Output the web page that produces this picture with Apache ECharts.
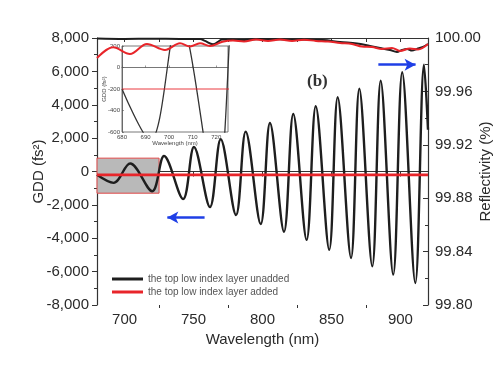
<!DOCTYPE html>
<html><head><meta charset="utf-8">
<script src="https://cdn.jsdelivr.net/npm/echarts@6/dist/echarts.min.js"></script>
<style>html,body{margin:0;padding:0;background:#fff}#c{width:500px;height:378px}</style>
</head><body><div id="c"></div>
<script>
// ---- data ----
const xMajorTicks = [700, 750, 800, 850, 900];
const xMinorTicks = [725, 775, 825, 875];
const xTopTicks = [700, 725, 750, 775, 800, 825, 850, 875, 900];
const insetXTicks = [680, 690, 700, 710, 720];
const legendNames = ['the top low index layer unadded', 'the top low index layer added'];

// GDD (fs^2) vs wavelength (nm): extremes of the oscillation
const gddUnadded = [
  [680, -200], [692, -680], [704, 480], [720, -1180], [728.6, 930], [742.4, -1650],
  [750.3, 1470], [761.9, -2130], [769.7, 1930], [780.8, -2610], [787.8, 2390],
  [798.7, -3150], [805.4, 2910], [815.6, -3610], [822.3, 3450], [832.0, -4100],
  [838.6, 3910], [848.4, -4690], [854.5, 4450], [864.2, -5180], [870.2, 4960],
  [879.6, -5680], [885.7, 5440], [894.8, -6180], [901.3, 5950], [910.8, -6680],
  [917.1, 6400], [920, 2500]
];
const gddAdded = [[680, -200], [800, -200], [920, -200]];

// Reflectivity (%)
const reflUnadded = [
  [680, 99.9996], [700, 99.9993], [720, 99.9994], [740, 99.9993], [754.7, 99.9993],
  [758.3, 99.9978], [764.1, 99.9953], [767.7, 99.9970], [770.6, 99.9989], [783.7, 99.9985],
  [798.2, 99.9993], [819.9, 99.9989], [843.9, 99.9985], [856.2, 99.9970], [868.5, 99.9959],
  [877.9, 99.9940], [885.2, 99.9925], [892.4, 99.9910], [897.5, 99.9895], [901.1, 99.9910],
  [904.8, 99.9918], [908.4, 99.9906], [912.0, 99.9918], [916.4, 99.9933], [920, 99.9955]
];
const reflAdded = [
  [680, 99.9850], [691.7, 99.9930], [703.9, 99.9880], [716.2, 99.9955], [729.3, 99.9910],
  [740.2, 99.9960], [747.4, 99.9936], [754.7, 99.9960], [761.9, 99.9940], [771, 99.9972],
  [778.6, 99.9981], [786.6, 99.9974], [795.3, 99.9989], [804, 99.9978], [812.7, 99.9989],
  [821.4, 99.9978], [830.1, 99.9987], [838.8, 99.9978], [847.5, 99.9974], [856.2, 99.9963],
  [864.9, 99.9955], [872.1, 99.9936], [879.4, 99.9933], [886.6, 99.9918], [893.9, 99.9925],
  [899.7, 99.9903], [906.9, 99.9921], [912.7, 99.9914], [920, 99.9955]
];

const zoomBox = [[680, 800], [725, -1300]];
const arrowLeft = [[758, -2750], [731, -2750]];
const arrowRight = [[884, 99.980], [911, 99.980]];

// ---- chart ----
const FONT = '"Liberation Sans", Arial, sans-serif';
const TXT = '#2a2a2a';
const AX = '#333';
const BLUE = '#1f3fe6';
const chart = echarts.init(document.getElementById('c'), null, {renderer: 'canvas'});

const baseAxisLine = {show: true, lineStyle: {color: AX, width: 1.2}};

chart.setOption({
  animation: false,
  backgroundColor: '#fff',
  grid: [
    {left: 97, right: 72, top: 38, bottom: 73, containLabel: false, outerBoundsMode: 'none'},
    {left: 122, right: 272, top: 46, bottom: 246, containLabel: false, outerBoundsMode: 'none',
     show: true, backgroundColor: '#fff', borderColor: '#555', borderWidth: 0.8}
  ],
  legend: {
    data: legendNames,
    orient: 'vertical', left: 107, top: 269, itemWidth: 31, itemHeight: 3, itemGap: 3,
    icon: 'rect',
    textStyle: {fontSize: 10, color: '#555', fontFamily: FONT}
  },
  xAxis: [
    {type: 'value', gridIndex: 0, min: 680, max: 920, position: 'bottom',
     name: 'Wavelength (nm)', nameLocation: 'middle', nameGap: 27, nameMoveOverlap: false,
     nameTextStyle: {fontSize: 15, color: TXT, fontFamily: FONT},
     axisLine: baseAxisLine,
     axisTick: {show: true, length: 5, customValues: xMajorTicks, lineStyle: {color: AX}},
     axisLabel: {customValues: xMajorTicks, fontSize: 15, color: TXT, fontFamily: FONT, margin: 7},
     splitLine: {show: false}},
    {type: 'value', gridIndex: 0, min: 680, max: 920, position: 'bottom',
     axisLine: {show: false},
     axisTick: {show: true, length: 3, customValues: xMinorTicks, lineStyle: {color: AX}},
     axisLabel: {show: false}, splitLine: {show: false}},
    {type: 'value', gridIndex: 0, min: 680, max: 920, position: 'top',
     axisLine: baseAxisLine,
     axisTick: {show: true, inside: true, length: 4, customValues: xTopTicks, lineStyle: {color: AX}},
     axisLabel: {show: false}, splitLine: {show: false}},
    {type: 'value', gridIndex: 1, min: 680, max: 725, position: 'bottom',
     name: 'Wavelength (nm)', nameLocation: 'middle', nameGap: 8, nameMoveOverlap: false,
     nameTextStyle: {fontSize: 6, color: '#444', fontFamily: FONT},
     axisLine: {show: true, lineStyle: {color: '#555', width: 0.8}},
     axisTick: {show: true, inside: true, length: 2, customValues: insetXTicks, lineStyle: {color: '#555', width: 0.6}},
     axisLabel: {customValues: insetXTicks, fontSize: 6, color: '#444', margin: 2, fontFamily: FONT},
     splitLine: {show: false}}
  ],
  yAxis: [
    {type: 'value', gridIndex: 0, min: -8000, max: 8000, interval: 2000, position: 'left',
     name: 'GDD (fs²)', nameLocation: 'middle', nameGap: 51, nameRotate: 90, nameMoveOverlap: false,
     nameTextStyle: {fontSize: 15, color: TXT, fontFamily: FONT},
     axisLine: baseAxisLine,
     axisTick: {show: true, length: 5, lineStyle: {color: AX}},
     minorTick: {show: true, splitNumber: 2, length: 3, lineStyle: {color: AX}},
     axisLabel: {fontSize: 15, color: TXT, fontFamily: FONT, margin: 8},
     splitLine: {show: false}},
    {type: 'value', gridIndex: 0, min: 99.80, max: 100.00, interval: 0.04, position: 'right',
     name: 'Reflectivity (%)', nameLocation: 'middle', nameGap: 50, nameRotate: 90, nameMoveOverlap: false,
     nameTextStyle: {fontSize: 15, color: TXT, fontFamily: FONT},
     axisLine: baseAxisLine,
     axisTick: {show: true, inside: true, length: 5, lineStyle: {color: AX}},
     minorTick: {show: true, splitNumber: 2, length: 3, lineStyle: {color: AX}},
     axisLabel: {fontSize: 15, color: TXT, fontFamily: FONT, margin: 7, formatter: v => v.toFixed(2)},
     splitLine: {show: false}},
    {type: 'value', gridIndex: 1, min: -600, max: 200, interval: 200, position: 'left',
     name: 'GDD (fs²)', nameLocation: 'middle', nameGap: 15, nameRotate: 90, nameMoveOverlap: false,
     nameTextStyle: {fontSize: 6, color: '#444', fontFamily: FONT},
     axisLine: {show: true, lineStyle: {color: '#555', width: 0.8}},
     axisTick: {show: true, inside: true, length: 2, lineStyle: {color: '#555', width: 0.6}},
     axisLabel: {fontSize: 6, color: '#444', margin: 2, fontFamily: FONT},
     splitLine: {show: false}}
  ],
  graphic: [
    {type: 'text', left: 307, top: 73, z: 100,
     style: {text: '(b)', font: 'bold 17px "Liberation Serif", "Times New Roman", serif', fill: '#333'}}
  ],
  series: [
    {name: 'box', type: 'line', xAxisIndex: 0, yAxisIndex: 0, data: [], z: 1, silent: true,
     markArea: {silent: true, itemStyle: {color: '#b9b9b9', borderColor: '#e04848', borderWidth: 1},
       data: [[{coord: zoomBox[0]}, {coord: zoomBox[1]}]]}},
    {name: legendNames[0], type: 'line', xAxisIndex: 0, yAxisIndex: 0, data: gddUnadded,
     smooth: 0.35, symbol: 'none', z: 3,
     lineStyle: {color: '#1e1e1e', width: 2.4}, itemStyle: {color: '#1e1e1e'},
     markLine: {silent: true, symbol: ['none', 'arrow'], symbolSize: [9, 11], label: {show: false},
       lineStyle: {color: BLUE, width: 2.5, type: 'solid'},
       data: [[{coord: arrowLeft[0]}, {coord: arrowLeft[1]}]]}},
    {name: legendNames[1], type: 'line', xAxisIndex: 0, yAxisIndex: 0, data: gddAdded,
     symbol: 'none', z: 4,
     lineStyle: {color: '#e8252a', width: 2.6}, itemStyle: {color: '#e8252a'}},
    {name: 'R unadded', type: 'line', xAxisIndex: 0, yAxisIndex: 1, data: reflUnadded,
     smooth: 0.35, symbol: 'none', z: 6,
     lineStyle: {color: '#1e1e1e', width: 2}},
    {name: 'R added', type: 'line', xAxisIndex: 0, yAxisIndex: 1, data: reflAdded,
     smooth: 0.35, symbol: 'none', z: 7,
     lineStyle: {color: '#e8252a', width: 2},
     markLine: {silent: true, symbol: ['none', 'arrow'], symbolSize: [9, 11], label: {show: false},
       lineStyle: {color: BLUE, width: 2.5, type: 'solid'},
       data: [[{coord: arrowRight[0]}, {coord: arrowRight[1]}]]}},
    {name: 'inset unadded', type: 'line', xAxisIndex: 3, yAxisIndex: 2, data: gddUnadded,
     smooth: 0.35, symbol: 'none', z: 5, clip: true,
     lineStyle: {color: '#333', width: 1.3}},
    {name: 'inset added', type: 'line', xAxisIndex: 3, yAxisIndex: 2, data: gddAdded,
     symbol: 'none', z: 5, clip: true,
     lineStyle: {color: '#e8252a', width: 0.9}}
  ]
});
</script>
</body></html>
